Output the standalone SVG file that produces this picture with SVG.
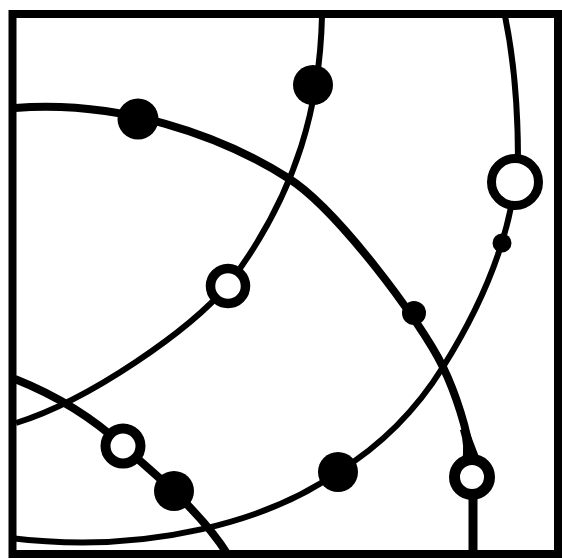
<svg xmlns="http://www.w3.org/2000/svg" width="562" height="559" viewBox="0 0 562 559">
  <style>
    .frame { fill: none; stroke: #000; stroke-width: 8; stroke-linecap: square; stroke-linejoin: miter; }
    .arc { fill: none; stroke: #000; stroke-linecap: butt; stroke-linejoin: round; }
    .thick { stroke-width: 8; }
    .thin { stroke-width: 6; }
    .dot { fill: #000; }
    .ring { fill: #fff; stroke: #000; }
  </style>
  <rect width="562" height="559" fill="#fff"/>
  <g id="frame">
    <rect class="frame" x="12.5" y="14" width="545.5" height="540"/>
  </g>
  <g id="connectors">
    <path id="arcA" class="arc thick" d="M15,108 C120,100 220,135 288,178 C336,208 420,320 443,367 C455,392 468,430 471,460"/>
    <path id="wedgeA" d="M460,430 Q465,445 462,462 L481,462 Q474,444 468,428 Z" fill="#000"/>
    <path id="stemA" class="arc" stroke-width="9" d="M473,490 L473,553"/>
    <path id="arcB" class="arc thin" d="M322,16 C320,100 300,190 228,285 C190,330 90,400 16,423"/>
    <path id="arcC" class="arc thin" d="M505,16 C512,50 518,100 518,160 L515,182 C508,240 485,300 443,367 C420,404 385,443 338,472 C270,520 150,555 10,538"/>
    <path id="arcD" class="arc thick" d="M15,379 C55,395 90,415 123,446 C150,470 200,510 228,555"/>
  </g>
  <g id="node-a1"><circle class="dot" cx="138" cy="119" r="20.5"/></g>
  <g id="node-b1"><circle class="dot" cx="313" cy="85" r="20"/></g>
  <g id="node-a2"><circle class="dot" cx="414" cy="313" r="12"/></g>
  <g id="node-c2"><circle class="dot" cx="502" cy="243" r="9.5"/></g>
  <g id="node-c3"><circle class="dot" cx="338" cy="472" r="20"/></g>
  <g id="node-d2"><circle class="dot" cx="174" cy="491" r="20"/></g>
  <g id="node-b2"><circle class="ring" cx="228" cy="286" r="17.5" stroke-width="9.5"/></g>
  <g id="node-c1"><circle class="ring" cx="515" cy="182" r="23.5" stroke-width="9"/></g>
  <g id="node-d1"><circle class="ring" cx="123" cy="446" r="17.5" stroke-width="10"/></g>
  <g id="node-a3"><circle class="ring" cx="472" cy="477" r="17.5" stroke-width="11"/></g>
</svg>
